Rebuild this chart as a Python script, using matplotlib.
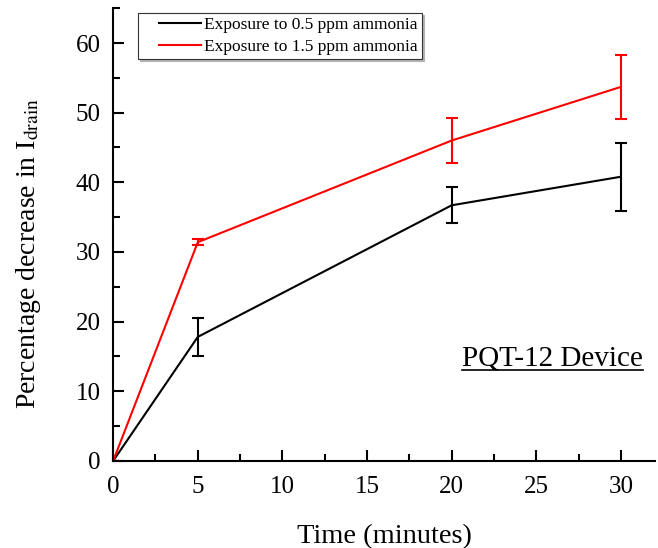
import matplotlib as mpl
mpl.use('Agg')
import matplotlib.pyplot as plt
import numpy as np
from matplotlib.lines import Line2D
from matplotlib.legend_handler import HandlerLine2D
from matplotlib.ticker import MultipleLocator

plt.rcParams['font.family'] = ['Liberation Serif', 'DejaVu Serif']
plt.rcParams['mathtext.fontset'] = 'stix'

time_min = [0, 5, 20, 30]
low_dose = [0, 17.8, 36.7, 40.8]
low_err = [0, 2.7, 2.6, 4.9]
high_dose = [0, 31.4, 46.0, 53.7]
high_err = [0, 0.4, 3.2, 4.6]
labels = ['Exposure to 0.5 ppm ammonia', 'Exposure to 1.5 ppm ammonia']
colors = ['black', '#ff0000']


class GapHandler(HandlerLine2D):
    """legend line that starts after a small blank gap, like the original"""
    def create_artists(self, legend, orig_handle, xdescent, ydescent,
                       width, height, fontsize, trans):
        arts = super().create_artists(legend, orig_handle, xdescent, ydescent,
                                      width, height, fontsize, trans)
        for a in arts:
            x = np.asarray(a.get_xdata(), dtype=float)
            if len(x) >= 2:
                x0 = x[0] + 0.28 * (x[-1] - x[0])
                a.set_xdata(np.linspace(x0, x[-1], len(x)))
        return arts


fig = plt.figure(figsize=(6.58, 5.48), dpi=100)
ax = fig.add_axes([0.172, 0.159, 0.823, 0.826])

for y, e, c in zip([low_dose, high_dose], [low_err, high_err], colors):
    ax.errorbar(time_min, y, yerr=e, color=c, lw=1.5,
                capsize=4.5, capthick=1.5, elinewidth=1.5)

ax.set_xlim(0, 32)
ax.set_ylim(0, 65)
ax.xaxis.set_major_locator(MultipleLocator(5))
ax.xaxis.set_minor_locator(MultipleLocator(2.5))
ax.yaxis.set_major_locator(MultipleLocator(10))
ax.yaxis.set_minor_locator(MultipleLocator(5))
ax.spines['top'].set_visible(False)
ax.spines['right'].set_visible(False)
for s in ('left', 'bottom'):
    ax.spines[s].set_linewidth(1.5)
ax.tick_params(which='both', direction='in', width=1.5, labelsize=18)
ax.tick_params(which='major', length=8)
ax.tick_params(axis='x', which='major', pad=11)
ax.tick_params(axis='y', which='major', pad=9)
ax.tick_params(which='minor', length=5)

ax.set_xlabel('Time (minutes)', fontsize=20.5)
ax.xaxis.set_label_coords(0.5, -0.14)
ax.set_ylabel(r'Percentage decrease in I$_{\mathrm{drain}}$', fontsize=20)
ax.yaxis.set_label_coords(-0.13, 0.457)

handles = [Line2D([], [], color=c, lw=1.5) for c in colors]
leg = ax.legend(handles, labels, loc='upper left', bbox_to_anchor=(0.046, 0.99),
                fontsize=12.5, handlelength=3.35, handletextpad=0.2, borderpad=0.25,
                labelspacing=0.3, borderaxespad=0, fancybox=False,
                edgecolor='#333333', framealpha=1,
                handler_map={Line2D: GapHandler()},
                shadow={'ox': 1.5, 'oy': -1.5, 'color': '0.7', 'alpha': 1})
leg.get_frame().set_linewidth(0.8)

txt = ax.text(0.978, 0.21, 'PQT-12 Device', transform=ax.transAxes,
              fontsize=21, ha='right', va='baseline')
fig.canvas.draw()
bb = txt.get_window_extent().transformed(ax.transAxes.inverted())
uy = 0.21 - 4 / 453
ax.plot([bb.x0, bb.x1], [uy, uy], transform=ax.transAxes,
        color='black', lw=1.2, clip_on=False)

fig.savefig('out.png', dpi=100)
